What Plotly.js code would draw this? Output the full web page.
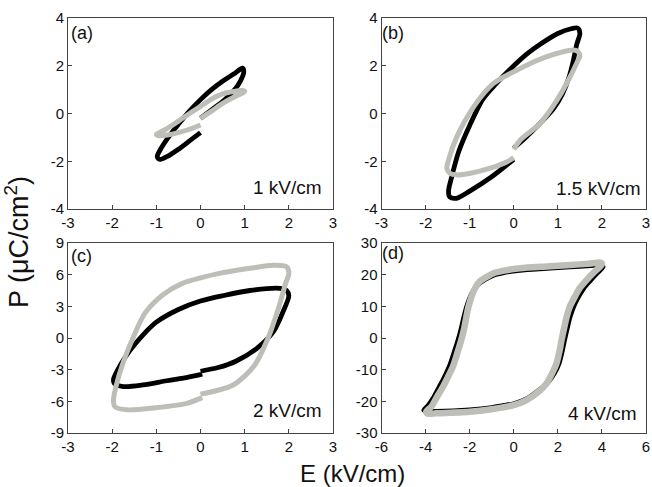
<!DOCTYPE html>
<html>
<head>
<meta charset="utf-8">
<script src="https://cdn.plot.ly/plotly-3.0.1.min.js"></script>
<style>html,body{margin:0;padding:0;background:#fff;}#chart{width:652px;height:487px;}</style>
</head>
<body>
<div id="chart"></div>
<script>
// ---- Panel (a): 1 kV/cm ----
const aBlackE = [0, 0.25, 0.5, 0.75, 0.9, 0.98, 0.95, 0.75, 0.5, 0.25, 0, -0.25, -0.5, -0.75, -0.9, -0.98, -0.95, -0.9, -0.75, -0.5, -0.25, 0];
const aBlackP = [-0.2, 0.15, 0.5, 0.95, 1.35, 1.75, 1.9, 1.65, 1.35, 1.0, 0.58, 0.1, -0.45, -1.05, -1.48, -1.8, -1.9, -1.92, -1.8, -1.5, -1.15, -0.8];
const aGreyE = [0, 0.25, 0.5, 0.75, 0.95, 1.0, 0.95, 0.75, 0.5, 0.25, 0, -0.25, -0.5, -0.75, -0.95, -1.0, -0.95, -0.75, -0.5, -0.25, 0];
const aGreyP = [-0.2, 0.1, 0.42, 0.68, 0.85, 0.92, 0.96, 0.92, 0.82, 0.6, 0.3, 0.0, -0.32, -0.62, -0.82, -0.88, -0.93, -0.9, -0.8, -0.66, -0.48];

// ---- Panel (b): 1.5 kV/cm ----
const bBlackE = [0, 0.3, 0.6, 0.9, 1.1, 1.25, 1.35, 1.43, 1.5, 1.45, 1.3, 1.0, 0.6, 0.3, 0, -0.4, -0.7, -1.0, -1.25, -1.4, -1.48, -1.45, -1.3, -1.0, -0.5, 0];
const bBlackP = [-1.45, -0.95, -0.4, 0.2, 0.8, 1.5, 2.2, 2.9, 3.35, 3.58, 3.55, 3.35, 2.9, 2.5, 2.0, 1.25, 0.6, -0.5, -1.6, -2.6, -3.25, -3.5, -3.55, -3.25, -2.65, -1.92];
const bGreyE = [0, 0.15, 0.6, 0.98, 1.28, 1.45, 1.5, 1.45, 1.35, 0.75, 0.15, -0.46, -0.91, -1.29, -1.48, -1.52, -1.45, -1.29, -0.98, -0.53, -0.15, 0];
const bGreyP = [-1.5, -1.11, -0.41, 0.56, 1.54, 2.2, 2.4, 2.6, 2.66, 2.38, 1.89, 1.26, 0.28, -0.97, -1.95, -2.3, -2.5, -2.57, -2.5, -2.29, -2.02, -1.85];

// ---- Panel (c): 2 kV/cm ----
const cBlackE = [0, 0.4, 0.8, 1.27, 1.65, 1.87, 2.0, 1.95, 1.8, 1.12, 0.5, 0, -0.5, -1.0, -1.3, -1.6, -1.82, -1.97, -1.95, -1.75, -1.3, -0.77, -0.39, 0.04];
const cBlackP = [-3.15, -2.8, -2.2, -1.0, 0.6, 2.5, 4.0, 4.5, 4.7, 4.5, 4.0, 3.5, 2.7, 1.5, 0.3, -1.2, -2.6, -3.9, -4.3, -4.6, -4.45, -4.05, -3.8, -3.42];
const cGreyE = [0, 0.74, 1.22, 1.53, 1.77, 1.93, 2.0, 1.95, 1.65, 1.12, 0.4, 0, -0.4, -0.85, -1.25, -1.52, -1.75, -1.92, -1.97, -1.94, -1.67, -1.0, -0.31, 0.04];
const cGreyP = [-5.32, -4.45, -2.6, 0.0, 2.9, 5.2, 6.1, 6.75, 6.9, 6.6, 6.1, 5.7, 5.2, 4.1, 2.4, 0.1, -2.3, -4.7, -5.9, -6.5, -6.8, -6.6, -6.19, -5.65];

// ---- Panel (d): 4 kV/cm ----
const dBlackE = [0, 0.6, 1.2, 1.55, 1.85, 2.05, 2.2, 2.3, 2.42, 2.55, 2.72, 2.93, 3.15, 3.45, 3.75, 4.05, 3.9, 3.5, 2.55, 1.5, 0.27, -0.5, -0.94, -1.3, -1.55, -1.8, -2.0, -2.15, -2.27, -2.38, -2.52, -2.7, -2.92, -3.15, -3.38, -3.65, -3.9, -4.08, -3.9, -3.5, -2.0, -1.0, -0.49, 0];
const dBlackP = [-20.8, -19.2, -16.2, -14, -11, -8, -4, -0.6, 3, 6.7, 10, 13, 15.5, 18, 20.3, 22.5, 23.0, 22.9, 22.5, 22.0, 21.4, 20.6, 19.8, 18.5, 17.3, 15.3, 12.5, 9.5, 6.3, 3, -0.6, -4.5, -9, -12.5, -15.5, -19, -21.5, -22.8, -23.2, -23.2, -22.7, -22.0, -21.4, -20.8];
const dGreyE = [0, 0.58, 1.2, 1.49, 1.75, 1.94, 2.08, 2.17, 2.28, 2.4, 2.55, 2.77, 3.0, 3.3, 3.6, 3.91, 4.0, 3.95, 3.5, 2.55, 1.5, 0.27, -0.5, -0.94, -1.3, -1.55, -1.75, -1.92, -2.05, -2.15, -2.25, -2.38, -2.55, -2.76, -3.0, -3.21, -3.5, -3.74, -3.97, -3.9, -3.51, -2.0, -1.0, -0.49, 0];
const dGreyP = [-21.2, -19.6, -16.5, -14.3, -11, -8, -4, -0.6, 3, 6.7, 10, 13, 15.8, 18.3, 20.5, 22.5, 23.3, 23.8, 23.5, 23.05, 22.6, 22.0, 21.2, 20.4, 19.0, 17.8, 15.8, 13, 10, 6.7, 3, -0.6, -4.5, -9.05, -12.5, -15.4, -18.8, -21.7, -23.3, -23.9, -23.8, -23.3, -22.5, -21.9, -21.2];

// ---- Tick values / labels ----
const tickE3 = [-3, -2, -1, 0, 1, 2, 3];
const tickE3Labels = ['-3', '-2', '-1', '0', '1', '2', '3'];
const tickE6 = [-6, -4, -2, 0, 2, 4, 6];
const tickE6Labels = ['-6', '-4', '-2', '0', '2', '4', '6'];
const tickP4 = [-4, -2, 0, 2, 4];
const tickP4Labels = ['-4', '-2', '0', '2', '4'];
const tickP9 = [-9, -6, -3, 0, 3, 6, 9];
const tickP9Labels = ['-9', '-6', '-3', '0', '3', '6', '9'];
const tickP30 = [-30, -20, -10, 0, 10, 20, 30];
const tickP30Labels = ['-30', '-20', '-10', '0', '10', '20', '30'];

const panelLabels = ['(a)', '(b)', '(c)', '(d)'];
const fieldLabels = ['1 kV/cm', '1.5 kV/cm', '2 kV/cm', '4 kV/cm'];

const BLACK = '#000000';
const GREY = 'rgb(189,190,183)';
const FONT = 'Liberation Sans, Arial, sans-serif';

function tr(x, y, xa, ya, color, w) {
  return {x: x, y: y, xaxis: xa, yaxis: ya, type: 'scatter', mode: 'lines',
    line: {color: color, width: w, shape: 'spline', smoothing: 0.8}, hoverinfo: 'skip', showlegend: false};
}

const data = [
  tr(aBlackE, aBlackP, 'x', 'y', BLACK, 4.8),
  tr(aGreyE, aGreyP, 'x', 'y', GREY, 5),
  tr(bBlackE, bBlackP, 'x2', 'y2', BLACK, 4.8),
  tr(bGreyE, bGreyP, 'x2', 'y2', GREY, 5),
  tr(cBlackE, cBlackP, 'x3', 'y3', BLACK, 4.8),
  tr(cGreyE, cGreyP, 'x3', 'y3', GREY, 5),
  tr(dBlackE, dBlackP, 'x4', 'y4', BLACK, 5),
  tr(dGreyE, dGreyP, 'x4', 'y4', GREY, 6.5)
];

function ax(domain, range, vals, labels, anchor) {
  return {domain: domain, range: range, tickvals: vals, ticktext: labels, anchor: anchor,
    ticks: 'inside', ticklen: 4, tickwidth: 1, tickcolor: '#444',
    showline: true, linecolor: '#444', linewidth: 1, mirror: true,
    showgrid: false, zeroline: false, fixedrange: true,
    tickfont: {family: FONT, size: 15, color: '#111'}};
}

const W = 652, H = 487;
const colA = [68 / W, 333 / W], colB = [381.5 / W, 646 / W];
const rowTop = [1 - 209 / H, 1 - 18 / H], rowBot = [1 - 433 / H, 1 - 243 / H];

const annotations = [];
const xrefs = ['x', 'x2', 'x3', 'x4'], yrefs = ['y', 'y2', 'y3', 'y4'];
const letterPos = [[0.005, 0.985], [-0.005, 0.985], [0.005, 0.995], [-0.005, 1.01]];
const fieldPos = [[0.965, 0.115], [0.985, 0.105], [0.965, 0.116], [0.972, 0.103]];
for (let i = 0; i < 4; i++) {
  annotations.push({text: panelLabels[i], xref: xrefs[i] + ' domain', yref: yrefs[i] + ' domain',
    x: letterPos[i][0], y: letterPos[i][1], xanchor: 'left', yanchor: 'top', showarrow: false,
    font: {family: FONT, size: 18, color: '#111'}});
  annotations.push({text: fieldLabels[i], xref: xrefs[i] + ' domain', yref: yrefs[i] + ' domain',
    x: fieldPos[i][0], y: fieldPos[i][1], xanchor: 'right', yanchor: 'middle', showarrow: false,
    font: {family: FONT, size: 19, color: '#111'}});
}
annotations.push({text: 'E (kV/cm)', xref: 'paper', yref: 'paper', x: 352 / W, y: 1 - 473 / H,
  xanchor: 'center', yanchor: 'middle', showarrow: false, font: {family: FONT, size: 24, color: '#111'}});
annotations.push({text: 'P (\u03bcC/cm<sup>2</sup>)', xref: 'paper', yref: 'paper', x: 17 / W, y: 1 - 242 / H,
  xanchor: 'center', yanchor: 'middle', textangle: -90, showarrow: false, font: {family: FONT, size: 27, color: '#111'}});

const layout = {
  width: W, height: H, margin: {l: 0, r: 0, t: 0, b: 0},
  paper_bgcolor: '#fff', plot_bgcolor: '#fff', showlegend: false,
  xaxis: ax(colA, [-3, 3], tickE3, tickE3Labels, 'y'),
  yaxis: ax(rowTop, [-4, 4], tickP4, tickP4Labels, 'x'),
  xaxis2: ax(colB, [-3, 3], tickE3, tickE3Labels, 'y2'),
  yaxis2: ax(rowTop, [-4, 4], tickP4, tickP4Labels, 'x2'),
  xaxis3: ax(colA, [-3, 3], tickE3, tickE3Labels, 'y3'),
  yaxis3: ax(rowBot, [-9, 9], tickP9, tickP9Labels, 'x3'),
  xaxis4: ax(colB, [-6, 6], tickE6, tickE6Labels, 'y4'),
  yaxis4: ax(rowBot, [-30, 30], tickP30, tickP30Labels, 'x4'),
  annotations: annotations
};

Plotly.newPlot('chart', data, layout, {displayModeBar: false, staticPlot: true});
</script>
</body>
</html>
